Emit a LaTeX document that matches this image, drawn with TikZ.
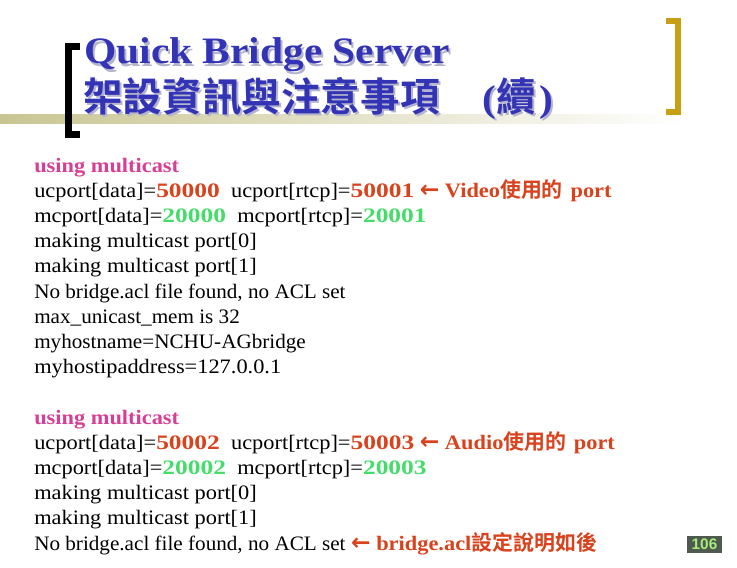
\documentclass[tikz,border=0pt]{standalone}
\usepackage{xcolor}
\usepackage{fontspec}
\setmainfont{Liberation Serif}[FakeStretch=1.09]
\setsansfont{Liberation Sans}
\newfontfamily\looserfont{Liberation Serif}[FakeStretch=1.03]
\newfontfamily\portfont{Liberation Serif}[FakeStretch=1.24]
\newfontfamily\headfont{Liberation Serif}[FakeStretch=1.11]
\newfontfamily\cjkfont{Noto Sans CJK TC}[BoldFont={* Bold}]
\newfontfamily\arrowfont{DejaVu Sans}[BoldFont={* Bold}]
\definecolor{titleblue}{HTML}{3333B5}
\definecolor{titleshade}{HTML}{B4B4CC}
\definecolor{barkhaki}{HTML}{C9C592}
\definecolor{bracketgold}{HTML}{C79F14}
\definecolor{portred}{HTML}{D8421C}
\definecolor{portgreen}{HTML}{45DC6A}
\definecolor{usingpink}{HTML}{D63F94}
\definecolor{pagegray}{HTML}{4F5A4F}
\definecolor{pagegreen}{HTML}{A5EC7C}
\newcommand{\red}[1]{\textcolor{portred}{{\portfont\bfseries #1}}}
\newcommand{\grn}[1]{\textcolor{portgreen}{{\portfont\bfseries #1}}}
\newcommand{\note}[1]{\textcolor{portred}{\textbf{#1}}}
\newcommand{\cjk}[1]{{\cjkfont\fontsize{15.7pt}{15.7pt}\selectfont\bfseries #1}}
\newcommand{\larrow}{\textcolor{portred}{{\arrowfont\fontsize{17.5pt}{17.5pt}\selectfont\bfseries\char"2190}}}
\tikzset{
  bodyline/.style={anchor=base west,inner sep=0pt,font=\fontsize{15.4pt}{15.4pt}\selectfont},
  titleline/.style={anchor=base west,inner sep=0pt,text=titleblue,font=\fontsize{28pt}{28pt}\selectfont\headfont\bfseries},
  titleshadow/.style={titleline,text=titleshade},
  bracketline/.style={line width=#1,line cap=butt,line join=miter}
}
\newcommand{\headcjk}[1]{{\cjkfont\fontsize{29.7pt}{29.7pt}\selectfont #1}}
\begin{document}
\begin{tikzpicture}[x=0.75pt,y=-0.75pt]
  \useasboundingbox (0,0) rectangle (737,567);
  % title bar and brackets
  \shade[left color=barkhaki,right color=white] (0,114) rectangle (690,123);
  \draw[bracketline=5.2pt,black] (80,46.5) -- (68.5,46.5) -- (68.5,134.5) -- (80,134.5);
  \draw[bracketline=4.5pt,bracketgold] (666,21.5) -- (678,21.5) -- (678,111.5) -- (666,111.5);
  % title
  \node[titleshadow] (qbshade) at (86,66) {Quick Bridge Server};
  \node[titleshadow] (zhshade) at (85,113) {\headcjk{架設資訊與注意事項}};
  \node[titleshadow] (xushade) at (484,113) {(\headcjk{續}\kern3pt)};
  \node[titleline] (qb) at (84,64) {Quick Bridge Server};
  \node[titleline] (zh) at (83,111) {\headcjk{架設資訊與注意事項}};
  \node[titleline] (xu) at (482,111) {(\headcjk{續}\kern3pt)};
  % first block
  \node[bodyline] (ua) at (34,172) {\textcolor{usingpink}{\textbf{using multicast}}};
  \node[bodyline] (ub) at (34,197) {ucport[data]=\red{50000}\ \ ucport[rtcp]=\red{50001} \larrow\ \note{Video\cjk{使用的}\hspace{0.1em} port}};
  \node[bodyline] (uc) at (34,222) {mcport[data]=\grn{20000}\ \ mcport[rtcp]=\grn{20001}};
  \node[bodyline] (ud) at (34,247) {making multicast port[0]};
  \node[bodyline] (ue) at (34,272) {making multicast port[1]};
  \node[bodyline] (uf) at (34,298) {\looserfont No bridge.acl file found, no ACL set};
  \node[bodyline] (ug) at (34,323) {\looserfont max\_unicast\_mem is 32};
  \node[bodyline] (uh) at (34,348) {\looserfont myhostname=NCHU-AGbridge};
  \node[bodyline] (ui) at (34,373) {myhostipaddress=127.0.0.1};
  % second block
  \node[bodyline] (va) at (34,424) {\textcolor{usingpink}{\textbf{using multicast}}};
  \node[bodyline] (vb) at (34,449) {ucport[data]=\red{50002}\ \ ucport[rtcp]=\red{50003} \larrow\ \note{Audio\cjk{使用的}\hspace{0.1em} port}};
  \node[bodyline] (vc) at (34,474) {mcport[data]=\grn{20002}\ \ mcport[rtcp]=\grn{20003}};
  \node[bodyline] (vd) at (34,499) {making multicast port[0]};
  \node[bodyline] (ve) at (34,524) {making multicast port[1]};
  \node[bodyline] (vf) at (34,550) {{\looserfont No bridge.acl file found, no ACL set} \larrow\ \note{bridge.acl\cjk{設定說明如後}}};
  % page number
  \node[fill=pagegray,text=pagegreen,inner sep=0pt,minimum width=26.25pt,minimum height=12.75pt,font=\sffamily\bfseries\fontsize{11.5pt}{11.5pt}\selectfont] (page) at (704.5,544.5) {106};
\end{tikzpicture}
\end{document}
